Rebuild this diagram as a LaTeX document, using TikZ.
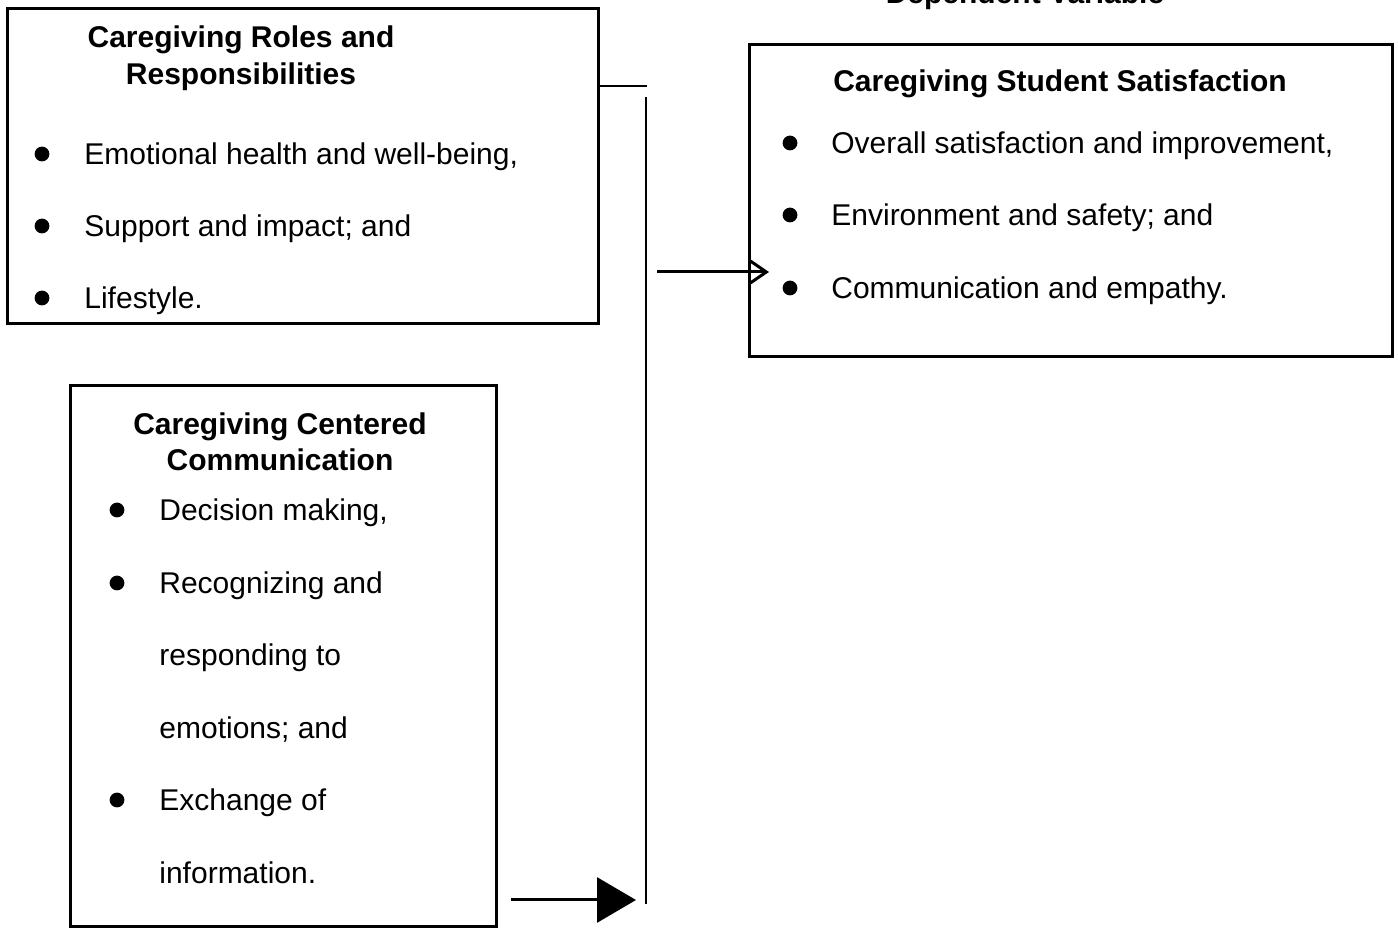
\documentclass[tikz,border=0pt]{standalone}
\usepackage{fontspec}
\setmainfont{Liberation Sans}
\usetikzlibrary{fit,arrows.meta}

\tikzset{
  box/.style={draw,line width=1.5pt,inner sep=0pt},
  head/.style={font=\fontsize{15}{18}\selectfont\bfseries,anchor=base},
  item/.style={font=\fontsize{15}{18}\selectfont,anchor=base west,inner sep=0pt},
}

\begin{document}
\begin{tikzpicture}[x=0.5pt,y=-0.5pt]
\useasboundingbox (0,0) rectangle (1398,929);
\clip (0,0) rectangle (1398,929);
\node[head] (dv) at (1025,3.5) {Dependent Variable};

% independent variables
\node[box,fit={(7,9) (598,324)}] (roles) {};
\node[head] (rolestitle) at (241,48) {Caregiving Roles and};
\node[head] (rolestitleb) at (241,85) {Responsibilities};
\fill (42,154) circle (3.7pt);
\node[item] (r1) at (84,164.5) {Emotional health and well-being,};
\fill (42,226) circle (3.7pt);
\node[item] (r2) at (84,236.5) {Support and impact; and};
\fill (42,298) circle (3.7pt);
\node[item] (r3) at (84,308.5) {Lifestyle.};

\node[box,fit={(70,386) (496,927)}] (comm) {};
\node[head] (commtitle) at (280,435) {Caregiving Centered};
\node[head] (commtitleb) at (280,471) {Communication};
\fill (117,510) circle (3.7pt);
\node[item] (c1) at (159,520.5) {Decision making,};
\fill (117,583) circle (3.7pt);
\node[item] (c2) at (159,593.5) {Recognizing and};
\node[item] (c3) at (159,665.5) {responding to};
\node[item] (c4) at (159,738.5) {emotions; and};
\fill (117,800) circle (3.7pt);
\node[item] (c5) at (159,810.5) {Exchange of};
\node[item] (c6) at (159,883.5) {information.};

% dependent variable
\node[box,fit={(749,45) (1392,357)}] (satis) {};
\node[head] (satistitle) at (1060,92) {Caregiving Student Satisfaction};
\fill (790,143) circle (3.7pt);
\node[item] (s1) at (831,153.5) {Overall satisfaction and improvement,};
\fill (790,215) circle (3.7pt);
\node[item] (s2) at (831,225.5) {Environment and safety; and};
\fill (790,288) circle (3.7pt);
\node[item] (s3) at (831,298.5) {Communication and empathy.};

% connectors
\coordinate (hjoin) at (647,86);
\coordinate (bartop) at (646,97);
\coordinate (barbot) at (646,904);
\coordinate (arrtail) at (657,272);
\coordinate (arrtip) at (769,272);
\coordinate (c2tail) at (511,900);
\draw[line width=1pt] (roles.east |- hjoin) -- (hjoin);
\draw[line width=1.2pt] (bartop) -- (barbot);
\draw[line width=1.5pt,-{Straight Barb[length=8pt,width=11pt]}] (arrtail) -- (arrtip);
\draw[line width=1.5pt,-{Triangle[length=19.5pt,width=22.5pt]},shorten >=5pt]
  (c2tail) -- (c2tail -| bartop);
\end{tikzpicture}
\end{document}
